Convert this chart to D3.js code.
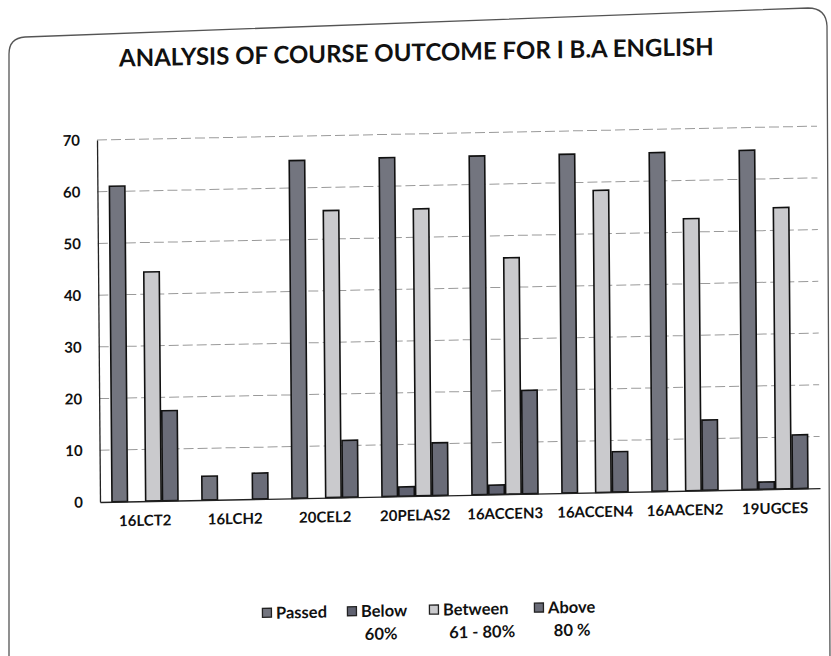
<!DOCTYPE html>
<html>
<head>
<meta charset="utf-8">
<script src="https://cdn.jsdelivr.net/npm/d3@7"></script>
<style>
  body { margin: 0; background: #fff; }
  text { font-family: Lato, "Open Sans", sans-serif; font-weight: bold; fill: #111; }
</style>
</head>
<body>
<svg></svg>
<script>
// chart values
var categories = ["16LCT2", "16LCH2", "20CEL2", "20PELAS2", "16ACCEN3", "16ACCEN4", "16AACEN2", "19UGCES"];
var passed  = [61, 4.6, 65.3, 65.5, 65.5, 65.5, 65.5, 65.6];
var below   = [0, 0, 0, 1.8, 1.8, 0, 0, 1.4];
var between = [44.3, 0, 55.5, 55.5, 45.7, 58.4, 52.6, 54.4];
var above   = [17.4, 5, 11, 10.2, 20, 7.8, 13.6, 10.4];
var seriesNames = ["Passed", "Below 60%", "Between 61 - 80%", "Above 80 %"];
var legendLines = [["Passed"], ["Below", "60%"], ["Between", "61 - 80%"], ["Above", "80 %"]];
var yTicks = [0, 10, 20, 30, 40, 50, 60, 70];

var width = 831;
var height = 656;
var colors = ["#73757f", "#5f6170", "#cacacd", "#6a6c78"];
var allSeries = [passed, below, between, above];

var svg = d3.select("svg")
    .attr("width", width)
    .attr("height", height);

// outer frame of the printed chart (scan is a bit skewed)
svg.append("path")
    .attr("d", "M9,660 L9,54 Q9,38 25,37 L808,8 Q826,8 827,26 L830,660")
    .attr("fill", "none")
    .attr("stroke", "#555")
    .attr("stroke-width", 1.3);

// the photo of the page is a little tilted / skewed
var g = svg.append("g")
    .attr("transform", "translate(100,502) matrix(1,-0.0192,0.0083,1,0,0) translate(-100,-502)");

var x0 = d3.scaleBand()
    .domain(categories)
    .range([100, 820]);

var x1 = d3.scaleBand()
    .domain(seriesNames)
    .range([12, 78])
    .paddingInner(0.08);

var y = d3.scaleLinear()
    .domain([0, 70])
    .range([502, 140]);

g.append("text")
    .attr("x", 420)
    .attr("y", 67)
    .attr("text-anchor", "middle")
    .attr("font-size", 24)
    .text("ANALYSIS OF COURSE OUTCOME FOR I B.A ENGLISH");

// dashed gridlines
g.append("g")
  .selectAll("line")
  .data(yTicks.filter(d => d > 0))
  .join("line")
    .attr("x1", 100)
    .attr("x2", 820)
    .attr("y1", d => y(d))
    .attr("y2", d => y(d))
    .attr("stroke", "#9a9a9a")
    .attr("stroke-width", 1)
    .attr("stroke-dasharray", "10,4");

var yAxis = g.append("g")
    .attr("transform", "translate(100,0)")
    .call(d3.axisLeft(y).tickValues(yTicks).tickSize(0).tickPadding(17));
yAxis.select(".domain").attr("stroke", "#222").attr("stroke-width", 1.3);
yAxis.selectAll("text").attr("font-size", 15).attr("fill", "#111");

// bars
var groups = g.append("g")
  .selectAll("g")
  .data(categories)
  .join("g")
    .attr("transform", d => "translate(" + x0(d) + ",0)");

groups.selectAll("rect")
  .data((d, i) => allSeries.map((s, k) => ({key: seriesNames[k], k: k, value: s[i]})).filter(d => d.value > 0))
  .join("rect")
    .attr("x", d => x1(d.key))
    .attr("y", d => y(d.value))
    .attr("width", x1.bandwidth())
    .attr("height", d => y(0) - y(d.value))
    .attr("fill", d => colors[d.k])
    .attr("stroke", "#111")
    .attr("stroke-width", 1.6);

var xAxis = g.append("g")
    .attr("transform", "translate(0,502)")
    .call(d3.axisBottom(x0).tickSize(0).tickPadding(14));
xAxis.select(".domain").attr("stroke", "#222").attr("stroke-width", 1.3);
xAxis.selectAll("text").attr("font-size", 15).attr("fill", "#111");

// legend
var legendX = [266, 351, 433, 538];
var secondLineX = [0, 29, 48, 33];
var legend = g.append("g")
  .selectAll("g")
  .data(legendLines)
  .join("g")
    .attr("transform", (d, i) => "translate(" + legendX[i] + ",616)");

legend.append("rect")
    .attr("x", -4.5)
    .attr("y", -4.5)
    .attr("width", 9)
    .attr("height", 9)
    .attr("fill", (d, i) => colors[i])
    .attr("stroke", "#222")
    .attr("stroke-width", 1.3);

legend.each(function(lines, i) {
  var t = d3.select(this);
  t.append("text")
      .attr("x", 9)
      .attr("y", 6)
      .attr("font-size", 16.5)
      .text(lines[0]);
  if (lines[1]) {
    t.append("text")
        .attr("x", secondLineX[i])
        .attr("y", 29)
        .attr("text-anchor", "middle")
        .attr("font-size", 16.5)
        .text(lines[1]);
  }
});
</script>
</body>
</html>
